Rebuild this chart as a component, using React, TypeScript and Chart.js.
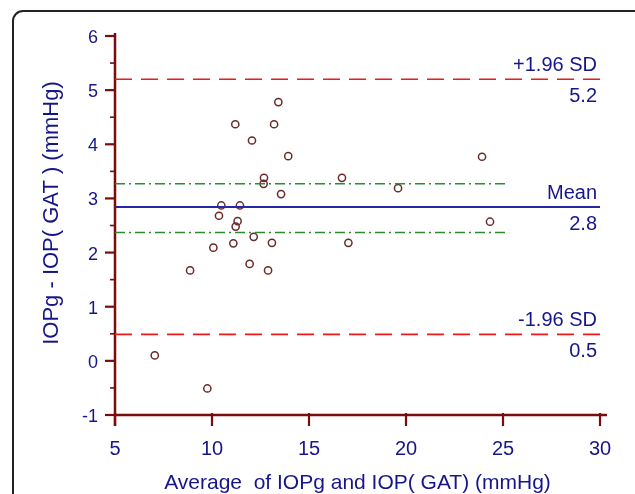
import React, { useEffect, useRef } from "react";
import { Chart, registerables } from "chart.js";

Chart.register(...registerables);

// Average of IOPg and IOP(GAT) (mmHg)
const avgValues = [
  7.05, 8.87, 9.76, 10.07, 10.36, 10.48, 11.1, 11.2, 11.22, 11.32, 11.44, 11.94,
  12.06, 12.15, 12.68, 12.66, 12.89, 13.09, 13.2, 13.42, 13.56, 13.93, 16.7,
  17.03, 19.59, 23.92, 24.33,
];
// IOPg - IOP(GAT) (mmHg)
const diffValues = [
  0.1, 1.67, -0.51, 2.09, 2.68, 2.87, 2.17, 4.37, 2.48, 2.58, 2.87, 1.79, 4.07,
  2.29, 3.38, 3.27, 1.67, 2.18, 4.37, 4.78, 3.08, 3.78, 3.38, 2.18, 3.19, 3.77,
  2.57,
];

const xTickValues = [5, 10, 15, 20, 25, 30];
const yTickValues = [-1, 0, 1, 2, 3, 4, 5, 6];

const meanDiff = 2.84;
const upperLimit = 5.2;
const lowerLimit = 0.49;
const meanCiUpper = 3.27;
const meanCiLower = 2.37;
const ciLineEnd = 25.3;
const limitLineEnd = 30;

const refLabelValues = [upperLimit, meanDiff, lowerLimit];
const refLabelTop = ["+1.96 SD", "Mean", "-1.96 SD"];
const refLabelBottom = ["5.2", "2.8", "0.5"];

const xTitle = "Average  of IOPg and IOP( GAT) (mmHg)";
const yTitle = "IOPg - IOP( GAT ) (mmHg)";

const NAVY = "#16168a";
const AXIS = "#7a0c0c";
const FONT = '"Liberation Sans", Arial, sans-serif';

const axesPlugin = {
  id: "baAxes",
  beforeDatasetsDraw(chart: any) {
    const { ctx, scales } = chart;
    const xs = scales.x;
    const ys = scales.y;
    const x0 = xs.getPixelForValue(xTickValues[0]);
    const y0 = ys.getPixelForValue(yTickValues[0]);
    const yTop = ys.getPixelForValue(yTickValues[yTickValues.length - 1]);
    const xRight = xs.getPixelForValue(xTickValues[xTickValues.length - 1]);
    ctx.save();
    ctx.strokeStyle = AXIS;
    ctx.lineCap = "butt";
    // axis lines
    ctx.lineWidth = 2.5;
    ctx.beginPath();
    ctx.moveTo(x0, yTop - 3);
    ctx.lineTo(x0, y0 + 11);
    ctx.moveTo(x0, y0);
    ctx.lineTo(xRight + 7, y0);
    ctx.stroke();
    // y ticks
    for (let i = 0; i < yTickValues.length; i++) {
      const v = yTickValues[i];
      const py = ys.getPixelForValue(v);
      ctx.lineWidth = 2.2;
      ctx.beginPath();
      ctx.moveTo(x0 - 10, py);
      ctx.lineTo(x0, py);
      ctx.stroke();
      if (i < yTickValues.length - 1) {
        const pm = ys.getPixelForValue(v + 0.5);
        ctx.lineWidth = 1.6;
        ctx.beginPath();
        ctx.moveTo(x0 - 5, pm);
        ctx.lineTo(x0, pm);
        ctx.stroke();
      }
    }
    // x ticks
    ctx.lineWidth = 2.2;
    for (const v of xTickValues) {
      const px = xs.getPixelForValue(v);
      ctx.beginPath();
      ctx.moveTo(px, y0 - 2);
      ctx.lineTo(px, y0 + 11);
      ctx.stroke();
    }
    ctx.restore();
  },
  afterDatasetsDraw(chart: any) {
    const { ctx, scales, chartArea } = chart;
    const xs = scales.x;
    const ys = scales.y;
    ctx.save();
    ctx.fillStyle = NAVY;
    ctx.font = `20px ${FONT}`;
    ctx.textAlign = "right";
    ctx.textBaseline = "alphabetic";
    const xr = xs.getPixelForValue(limitLineEnd) - 3;
    refLabelValues.forEach((v, i) => {
      const py = ys.getPixelForValue(v);
      ctx.fillText(refLabelTop[i], xr, py - 8);
      ctx.fillText(refLabelBottom[i], xr, py + 23);
    });
    // x title
    ctx.font = `21px ${FONT}`;
    ctx.textAlign = "center";
    ctx.fillText(xTitle, (chartArea.left + chartArea.right) / 2, 489);
    // y title
    ctx.font = `22px ${FONT}`;
    ctx.translate(52, 213);
    ctx.rotate(-Math.PI / 2);
    ctx.textBaseline = "middle";
    ctx.fillText(yTitle, 0, 0);
    ctx.restore();
  },
};

export default function App() {
  const canvasRef = useRef<HTMLCanvasElement | null>(null);

  useEffect(() => {
    const canvas = canvasRef.current;
    if (!canvas) return;
    const points = avgValues.map((x, i) => ({ x, y: diffValues[i] }));
    const x0 = xTickValues[0];
    const chart = new Chart(canvas, {
      type: "scatter",
      data: {
        datasets: [
          {
            type: "line",
            data: [
              { x: x0, y: upperLimit },
              { x: limitLineEnd, y: upperLimit },
            ],
            borderColor: "#f01818",
            borderWidth: 1.6,
            borderDash: [17, 9],
            pointRadius: 0,
            fill: false,
          },
          {
            type: "line",
            data: [
              { x: x0, y: lowerLimit },
              { x: limitLineEnd, y: lowerLimit },
            ],
            borderColor: "#f01818",
            borderWidth: 1.6,
            borderDash: [17, 9],
            pointRadius: 0,
            fill: false,
          },
          {
            type: "line",
            data: [
              { x: x0, y: meanCiUpper },
              { x: ciLineEnd, y: meanCiUpper },
            ],
            borderColor: "#2a8c2a",
            borderWidth: 1.5,
            borderDash: [10, 4, 2, 4],
            pointRadius: 0,
            fill: false,
          },
          {
            type: "line",
            data: [
              { x: x0, y: meanCiLower },
              { x: ciLineEnd, y: meanCiLower },
            ],
            borderColor: "#2a8c2a",
            borderWidth: 1.5,
            borderDash: [10, 4, 2, 4],
            pointRadius: 0,
            fill: false,
          },
          {
            type: "line",
            data: [
              { x: x0, y: meanDiff },
              { x: limitLineEnd + 0.05, y: meanDiff },
            ],
            borderColor: "#2626a6",
            borderWidth: 2,
            pointRadius: 0,
            fill: false,
          },
          {
            type: "scatter",
            data: points,
            pointRadius: 3.6,
            pointHoverRadius: 3.6,
            pointBorderWidth: 1.5,
            borderColor: "#6a2a2a",
            backgroundColor: "rgba(255,255,255,0)",
            pointStyle: "circle",
          },
        ],
      },
      options: {
        responsive: false,
        animation: false,
        events: [],
        layout: { padding: { top: 36, right: 35, left: 0, bottom: 0 } },
        plugins: {
          legend: { display: false },
          tooltip: { enabled: false },
        },
        scales: {
          x: {
            type: "linear",
            min: xTickValues[0],
            max: xTickValues[xTickValues.length - 1],
            grid: { display: false, drawTicks: false },
            border: { display: false },
            afterBuildTicks: (s: any) => {
              s.ticks = xTickValues.map((v) => ({ value: v }));
            },
            afterFit: (s: any) => {
              s.height = 79;
            },
            ticks: {
              padding: 22,
              color: NAVY,
              font: { family: FONT, size: 20 },
              maxRotation: 0,
            },
          },
          y: {
            type: "linear",
            min: yTickValues[0],
            max: yTickValues[yTickValues.length - 1],
            grid: { display: false, drawTicks: false },
            border: { display: false },
            afterBuildTicks: (s: any) => {
              s.ticks = yTickValues.map((v) => ({ value: v }));
            },
            afterFit: (s: any) => {
              s.width = 115;
            },
            ticks: {
              padding: 17,
              labelOffset: 2,
              color: NAVY,
              font: { family: FONT, size: 18 },
            },
          },
        },
      },
      plugins: [axesPlugin],
    });
    return () => chart.destroy();
  }, []);

  return (
    <div
      style={{
        position: "fixed",
        left: 0,
        top: 0,
        width: 635,
        height: 494,
        overflow: "hidden",
        background: "#ffffff",
      }}
    >
      <div
        style={{
          position: "absolute",
          left: 12,
          top: 10,
          width: 700,
          height: 600,
          border: "2px solid #222",
          borderRadius: 11,
          boxSizing: "border-box",
        }}
      />
      <canvas
        ref={canvasRef}
        width={635}
        height={494}
        style={{ position: "absolute", left: 0, top: 0, width: 635, height: 494 }}
      />
    </div>
  );
}
